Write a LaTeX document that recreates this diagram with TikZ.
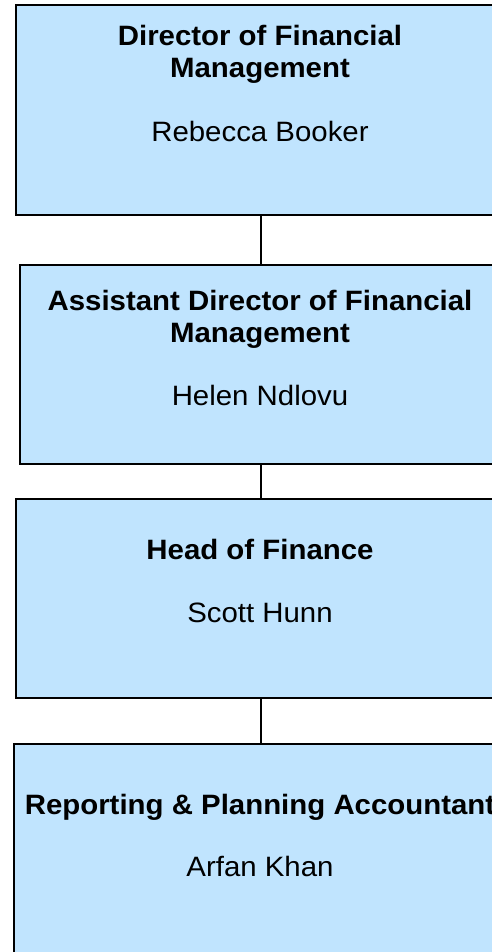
\documentclass[tikz,border=0pt]{standalone}
\usepackage{fontspec}
\setmainfont[FakeStretch=1.05]{Liberation Sans}
\usetikzlibrary{positioning}
\definecolor{cPost}{HTML}{C0E4FE}
\tikzset{
  post/.style={draw=black,fill=cPost,line width=1.6pt,anchor=north west,inner sep=0pt},
  title/.style={font=\fontsize{28}{32}\selectfont\bfseries,align=center,anchor=base,inner sep=0pt},
  who/.style={font=\fontsize{28}{32}\selectfont,anchor=base,inner sep=0pt},
  link/.style={line width=1.4pt}}

\begin{document}
\begin{tikzpicture}[x=1pt,y=1pt]
\useasboundingbox (0,0) rectangle (491,-952);
% boxes
\node[post,minimum width=490pt,minimum height=210pt] (dfm) at (15,-4) {};
\node[post,minimum width=482pt,minimum height=199pt] (adfm) at (19,-264) {};
\node[post,minimum width=490pt,minimum height=199pt] (hof) at (15,-498) {};
\node[post,minimum width=494pt,minimum height=230pt] (rpa) at (13,-743) {};
% texts
\node[title] (dfmT) at (260,-78) {Director of Financial\\Management};
\node[who] (dfmN) at (260,-142) {Rebecca Booker};
\node[title] (adfmT) at (260,-342) {Assistant Director of Financial\\Management};
\node[who] (adfmN) at (260,-405) {Helen Ndlovu};
\node[title] (hofT) at (260,-559) {Head of Finance};
\node[who] (hofN) at (260,-622) {Scott Hunn};
\node[title] (rpaT) at (260,-814) {Reporting \& Planning Accountant};
\node[who] (rpaN) at (260,-876) {Arfan Khan};
% links
\draw[link] (dfm.south) -- (adfm.north);
\draw[link] (adfm.south) -- (hof.north);
\draw[link] (hof.south) -- (rpa.north);
\end{tikzpicture}
\end{document}
